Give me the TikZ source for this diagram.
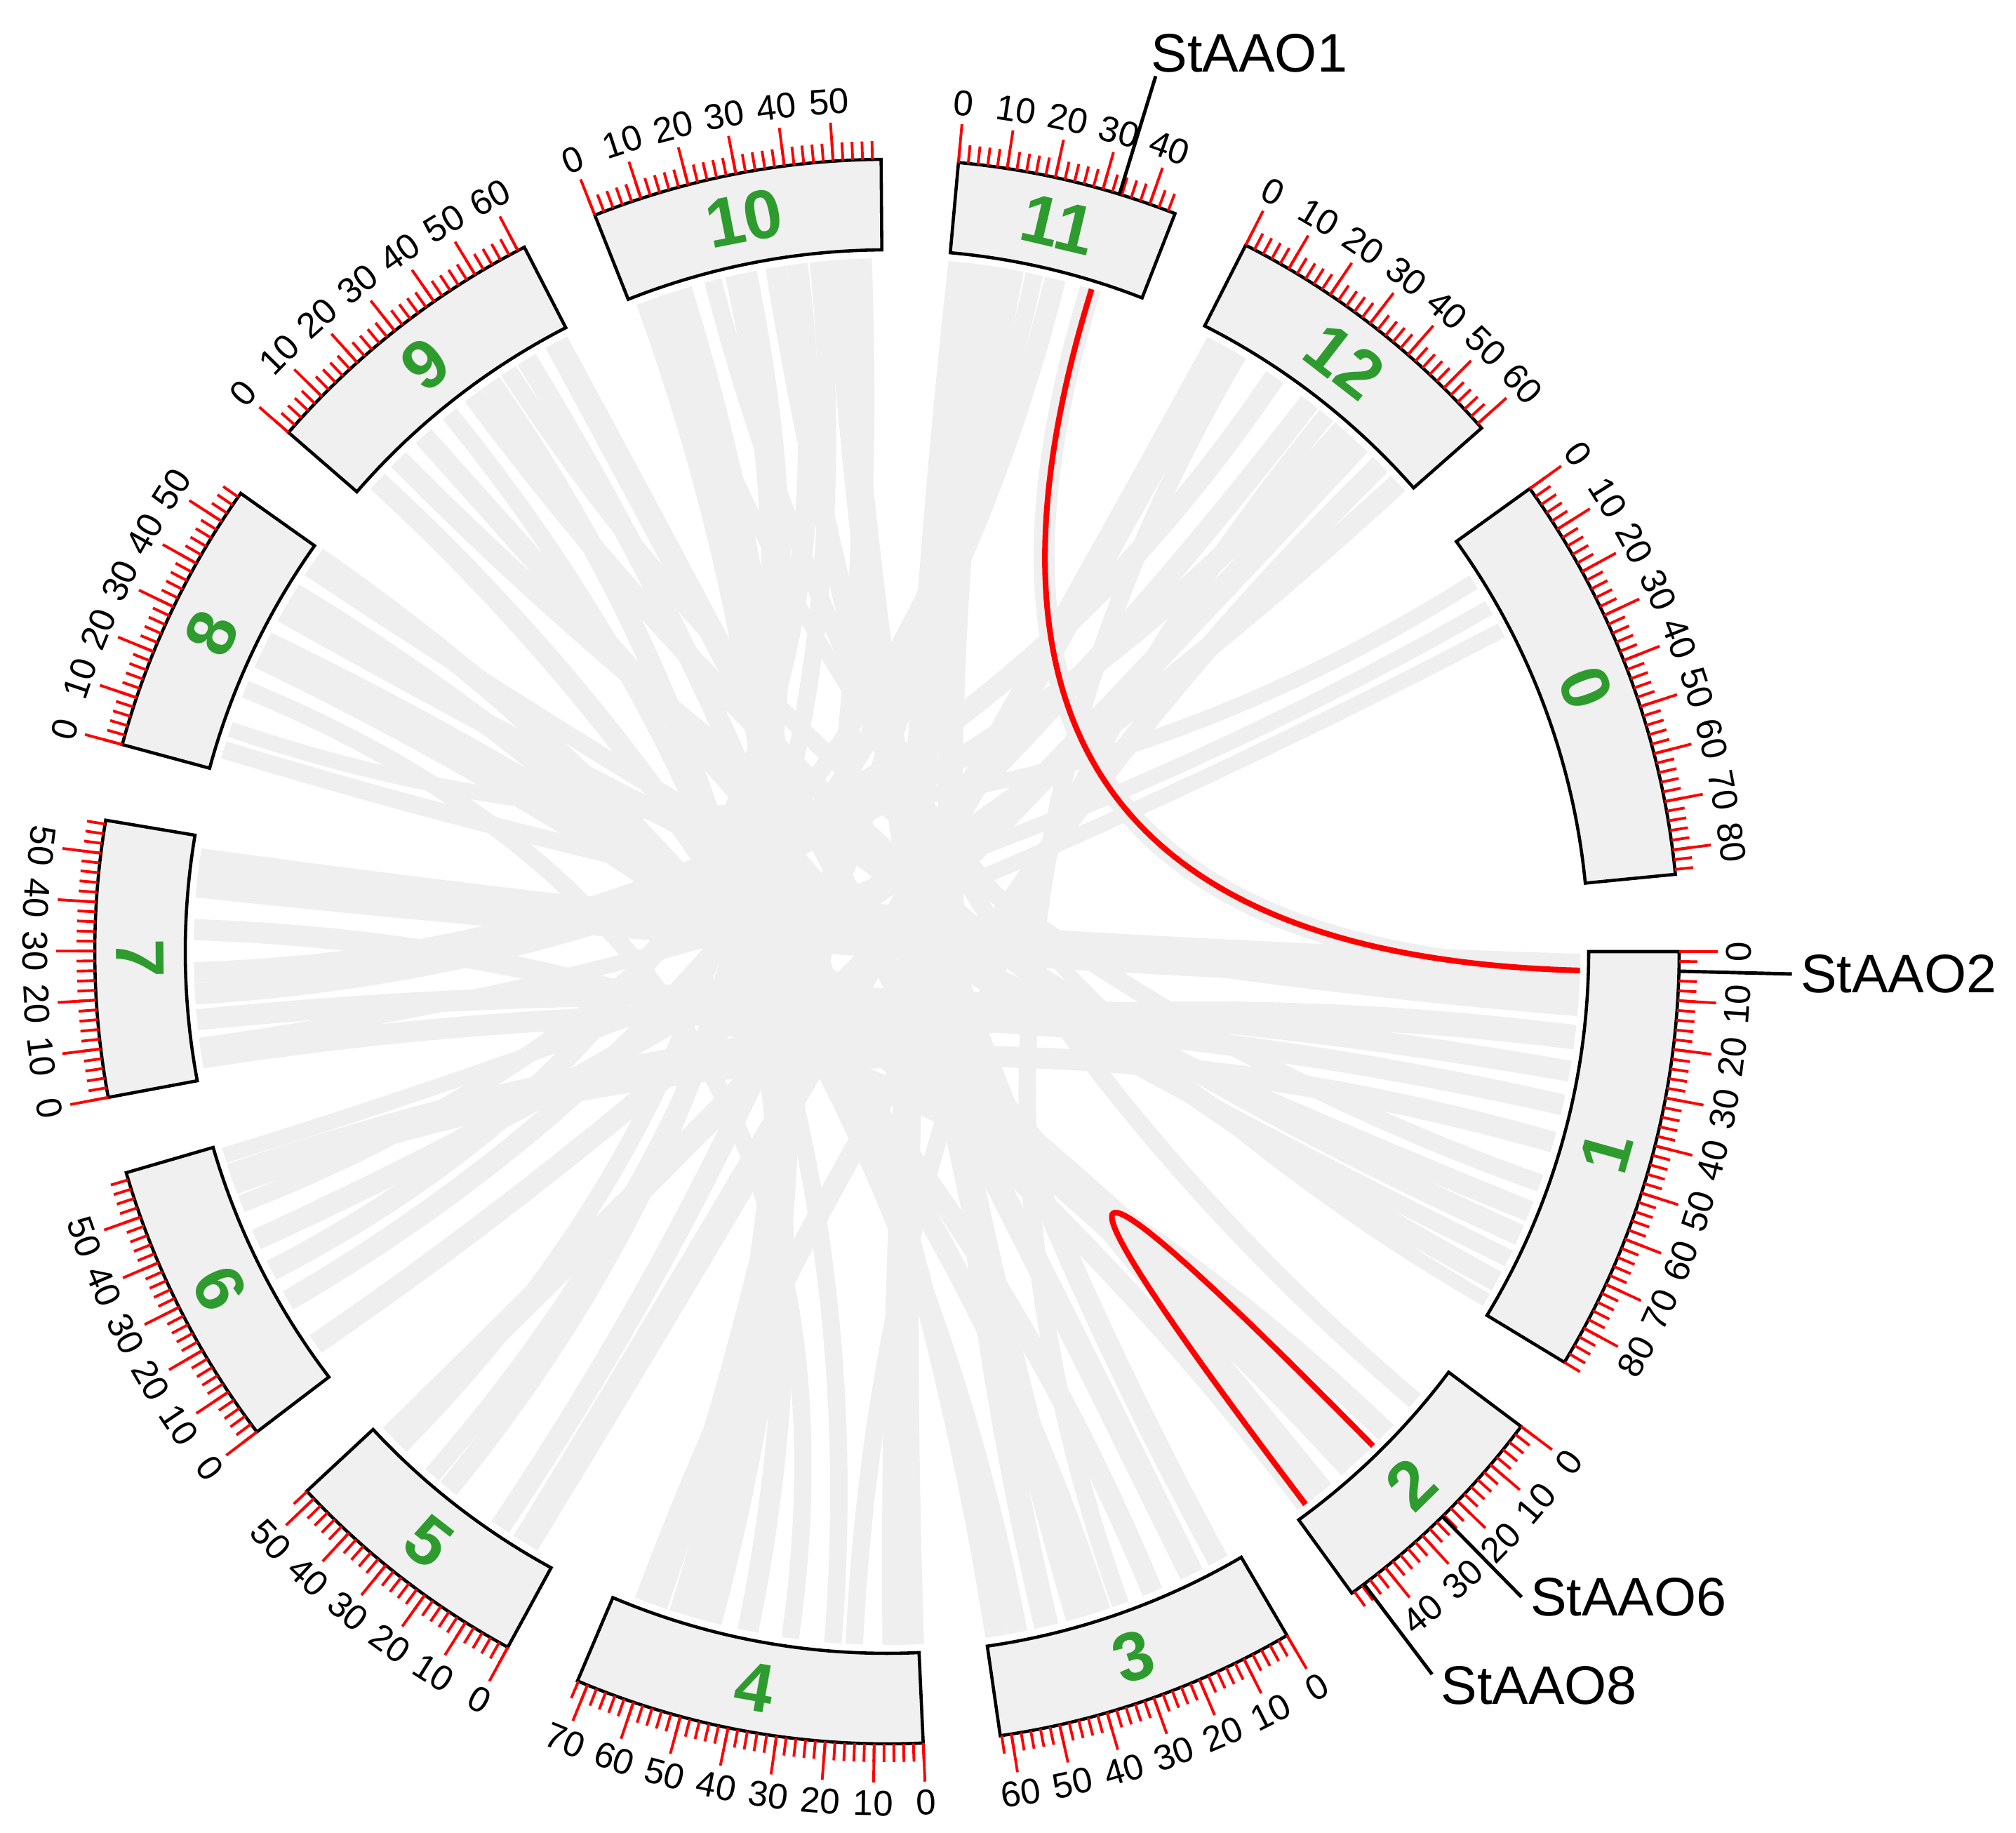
\documentclass[tikz,border=0pt]{standalone}
\usepackage{fontspec}
\setmainfont{Liberation Sans}
\usepackage{tikz}
\usetikzlibrary{calc}
\definecolor{ciRed}{HTML}{FF0000}
\definecolor{ciGreen}{HTML}{2E9B2E}
\definecolor{ciRibbon}{HTML}{EFEFEF}
\definecolor{ciBox}{HTML}{F0F0F0}
\tikzset{
  chrbox/.style={draw=black, fill=ciBox, line width=1.3pt},
  ribbon/.style={draw=ciRibbon},
  synteny/.style={draw=ciRed, line width=2.3pt},
  tickminor/.style={draw=ciRed, line width=1.1pt},
  tickmajor/.style={draw=ciRed, line width=1.1pt},
  ticklabel/.style={font=\fontsize{14.5}{16}\selectfont, inner sep=0pt},
  chrlabel/.style={font=\fontsize{28}{30}\selectfont\bfseries, text=ciGreen, inner sep=0pt},
  genelabel/.style={font=\fontsize{22}{26}\selectfont, inner sep=0pt},
  geneline/.style={draw=black, line width=1.4pt}
}
% ring geometry (cm) and scale (degrees per Mb)
\def\ringin{10.00}
\def\ringout{11.29}
\def\ringmid{10.645}
\def\tickminr{11.55}
\def\tickmajr{11.84}
\def\labr{12.14}
\def\linkr{9.88}
\def\linkc{3.2933}
\def\mbdeg{0.35483}
% chromosomes 0..12: start (deg clockwise from east), length (Mb), label turn
\def\chrstart{{324.24,0,36.825,59.67,87.376,118.595,142.682,169.394,195.148,220.938,248.36,275.179,296.924}}
\def\chrlen{{85,88,48.6,62.3,72.2,52.1,59.5,56.8,56.9,61.5,59.8,45.5,61.2}}
\def\chrflip{{-90,90,90,90,90,90,90,90,-90,-90,-90,-90,-90}}
\newcommand\chrpos[3]{\pgfmathsetmacro\tmpst{\chrstart[#1]}\pgfmathsetmacro#3{-(\tmpst+\mbdeg*#2)}}

\begin{document}
\begin{tikzpicture}
  \useasboundingbox (-12.64,-12.55) rectangle (16.09,13.56);

  % gray collinear blocks
  \foreach \ca/\pa/\cb/\pb/\w in {
    1/5/7/47/0.55, 1/9/7/52/0.25, 1/13/8/5/0.25, 1/28/7/14/0.3, 1/36/7/5/0.3,
    1/45/6/50/0.3, 1/55/9/45/0.25, 1/62/8/40/0.3, 1/68/9/12/0.3, 1/74/8/52/0.25,
    1/80/9/35/0.3, 1/85/10/8/0.2, 1/4.4/11/33.5/0.3, 2/10/10/20/0.25, 2/30/8/30/0.55,
    2/40/9/20/0.3, 3/5/10/35/0.3, 3/12/9/58/0.35, 3/22/8/45/0.3, 3/30/12/10/0.25,
    3/35/8/55/0.3, 3/40/10/50/0.4, 3/48/11/10/0.35, 3/55/9/5/0.3, 3/60/9/50/0.3,
    4/2/11/3/0.4, 4/6/11/8/0.3, 4/15/12/35/0.25, 4/20/9/28/0.25, 4/30/8/20/0.25,
    4/40/9/40/0.3, 4/50/10/5/0.45, 4/56/10/12/0.35, 4/62/10/55/0.3, 4/65/12/52/0.3,
    5/8/12/5/0.4, 5/15/11/15/0.3, 5/30/10/28/0.3, 5/35/10/45/0.25, 5/48/12/45/0.35,
    6/8/12/30/0.3, 6/20/11/25/0.3, 6/28/10/40/0.3, 6/36/12/58/0.3, 6/45/11/20/0.25,
    6/52/1/20/0.35, 6/57/0/23/0.22, 7/8/0/17/0.22, 8/10/0/10/0.22, 7/20/12/40/0.3,
    7/25/12/20/0.3, 7/35/2/20/0.3, 8/28/2/45/0.3, 10/25/5/45/0.25}{
    \chrpos{\ca}{\pa}{\ta}
    \chrpos{\cb}{\pb}{\tb}
    \draw[ribbon, line width=\w cm] (\ta:\linkr) .. controls (\ta:\linkc) and (\tb:\linkc) .. (\tb:\linkr);
  }

  % highlighted pairs
  \chrpos{11}{33.8}{\ra}
  \chrpos{1}{4.4}{\rb}
  \coordinate (s11) at (\ra:\linkr);
  \coordinate (s1) at (\rb:\linkr);
  \draw[synteny] (s11) .. controls (\ra:\linkc) and (\rb:\linkc) .. (s1);
  \chrpos{2}{24.4}{\rc}
  \chrpos{2}{45.2}{\rd}
  \coordinate (s2a) at (\rc:\linkr);
  \coordinate (s2b) at (\rd:\linkr);
  \draw[synteny] (s2a) .. controls (\rc:\linkc) and (\rd:\linkc) .. (s2b);

  % ideograms, ticks and labels
  \foreach \ch in {0,...,12}{
    \pgfmathsetmacro\st{\chrstart[\ch]}
    \pgfmathsetmacro\clen{\chrlen[\ch]}
    \pgfmathsetmacro\fl{\chrflip[\ch]}
    \pgfmathsetmacro\sa{-\st}
    \pgfmathsetmacro\ea{-(\st+\mbdeg*\clen)}
    \pgfmathsetmacro\ma{(\sa+\ea)/2}
    \pgfmathsetmacro\rt{\ma+\fl}
    \draw[chrbox] (\sa:\ringin) arc[start angle=\sa, end angle=\ea, radius=\ringin]
      -- (\ea:\ringout) arc[start angle=\ea, end angle=\sa, radius=\ringout] -- cycle;
    \node[chrlabel, rotate=\rt] (chr\ch) at (\ma:\ringmid) {\ch};
    \pgfmathtruncatemacro\lnmin{\clen}
    \foreach \m in {0,2,...,\lnmin}{
      \pgfmathsetmacro\ta{\sa-\mbdeg*\m}
      \draw[tickminor] (\ta:\ringout) -- (\ta:\tickminr);
    }
    \pgfmathtruncatemacro\lnmaj{10*floor(\clen/10)}
    \foreach \m in {0,10,...,\lnmaj}{
      \pgfmathsetmacro\ta{\sa-\mbdeg*\m}
      \pgfmathsetmacro\tr{\ta+\fl}
      \draw[tickmajor] (\ta:\ringout) -- (\ta:\tickmajr);
      \node[ticklabel, rotate=\tr] (t\ch-\m) at (\ta:\labr) {\m};
    }
  }

  % gene labels
  \chrpos{11}{33.5}{\ga}
  \coordinate (aao1a) at (\ga:\ringout);
  \coordinate (aao1b) at (\ga:13.05);
  \draw[geneline] (aao1a) -- (aao1b);
  \node[genelabel, anchor=south west] (aao1) at ([xshift=-0.7mm, yshift=0.5mm]aao1b) {StAAO1};

  \chrpos{1}{4}{\gb}
  \coordinate (aao2a) at (\gb:\ringout);
  \coordinate (aao2b) at (\gb:12.9);
  \draw[geneline] (aao2a) -- (aao2b);
  \node[genelabel, anchor=west] (aao2) at ([xshift=1.2mm]aao2b) {StAAO2};

  \chrpos{2}{24.4}{\gc}
  \coordinate (aao6a) at (\gc:\ringout);
  \coordinate (aao6b) at (\gc:12.9);
  \draw[geneline] (aao6a) -- (aao6b);
  \node[genelabel, anchor=west] (aao6) at ([xshift=1.2mm]aao6b) {StAAO6};

  \chrpos{2}{45.5}{\gd}
  \coordinate (aao8a) at (\gd:\ringout);
  \coordinate (aao8b) at (\gd:12.9);
  \draw[geneline] (aao8a) -- (aao8b);
  \node[genelabel, anchor=west] (aao8) at ([xshift=1.2mm, yshift=-1.6mm]aao8b) {StAAO8};
\end{tikzpicture}
\end{document}
